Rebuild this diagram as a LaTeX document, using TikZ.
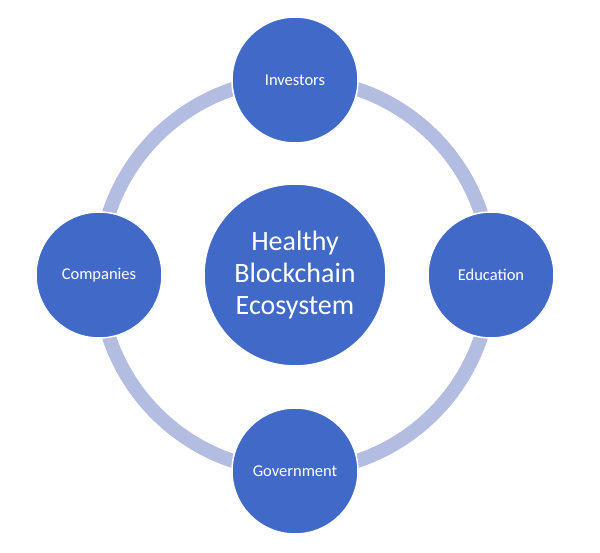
\documentclass[tikz,border=0pt]{standalone}
\usepackage{fontspec}
\setmainfont{Carlito}
\definecolor{ring}{HTML}{B3BDE1}
\definecolor{fillb}{HTML}{4169C7}
\begin{document}
\begin{tikzpicture}[x=1pt,y=-1pt,
  outer/.style={circle,fill=fillb,draw=white,line width=1.5pt,minimum size=126pt,inner sep=0pt,text=white,font=\fontsize{16.5}{19}\selectfont},
  inner/.style={circle,fill=fillb,draw=white,line width=1.5pt,minimum size=182pt,inner sep=0pt,text=white,align=center,font=\fontsize{28}{32}\selectfont}]
\useasboundingbox[fill=white] (0,0) rectangle (600,553);
\coordinate (c) at (295,275);
\draw[ring,line width=14pt] (c) circle (196);
\node[inner] (hub) at (c) {Healthy\\Blockchain\\Ecosystem};
\node[outer] (inv) at (295,80) {Investors};
\node[outer] (edu) at (491,275) {Education};
\node[outer] (gov) at (295,471) {Government};
\node[outer] (com) at (99,275) {Companies};
\end{tikzpicture}
\end{document}
